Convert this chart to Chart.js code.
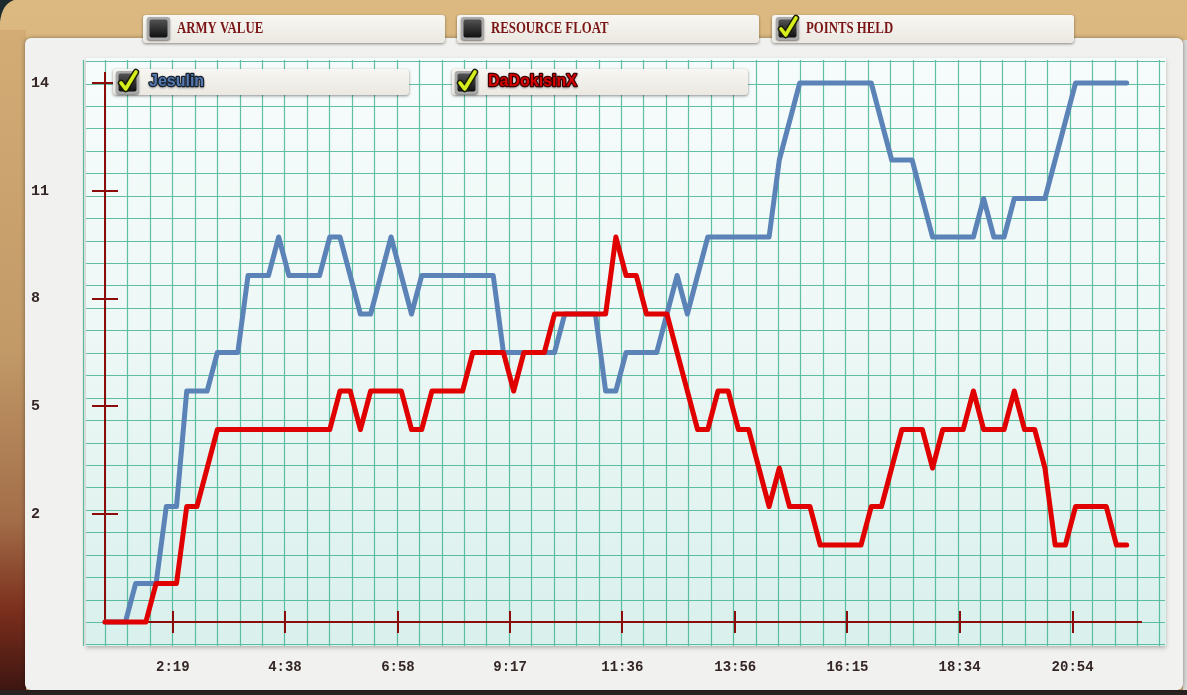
<!DOCTYPE html>
<html>
<head>
<meta charset="utf-8">
<title>Points Held</title>
<script src="https://cdn.jsdelivr.net/npm/chart.js@4.4.0/dist/chart.umd.min.js"></script>
<style>
  html, body { margin: 0; padding: 0; background: #d6b075; overflow: hidden; }
</style>
</head>
<body>
<canvas id="graph" width="1187" height="695"></canvas>
<script>
// --- data (one sample every ~12.7 s) ---
const players = ['Jesulin', 'DaDokisinX'];
const jesulinPoints = [
  0, 0, 0, 1, 1, 1, 3, 3, 6, 6,
  6, 7, 7, 7, 9, 9, 9, 10, 9, 9,
  9, 9, 10, 10, 9, 8, 8, 9, 10, 9,
  8, 9, 9, 9, 9, 9, 9, 9, 9, 7,
  7, 7, 7, 7, 7, 8, 8, 8, 8, 6,
  6, 7, 7, 7, 7, 8, 9, 8, 9, 10,
  10, 10, 10, 10, 10, 10, 12, 13, 14, 14,
  14, 14, 14, 14, 14, 14, 13, 12, 12, 12,
  11, 10, 10, 10, 10, 10, 11, 10, 10, 11,
  11, 11, 11, 12, 13, 14, 14, 14, 14, 14,
  14
];
const dadokisinxPoints = [
  0, 0, 0, 0, 0, 1, 1, 1, 3, 3,
  4, 5, 5, 5, 5, 5, 5, 5, 5, 5,
  5, 5, 5, 6, 6, 5, 6, 6, 6, 6,
  5, 5, 6, 6, 6, 6, 7, 7, 7, 7,
  6, 7, 7, 7, 8, 8, 8, 8, 8, 8,
  10, 9, 9, 8, 8, 8, 7, 6, 5, 5,
  6, 6, 5, 5, 4, 3, 4, 3, 3, 3,
  2, 2, 2, 2, 2, 3, 3, 4, 5, 5,
  5, 4, 5, 5, 5, 6, 5, 5, 5, 6,
  5, 5, 4, 2, 2, 3, 3, 3, 3, 2,
  2
];
const timeTicks = ['2:19', '4:38', '6:58', '9:17', '11:36', '13:56', '16:15', '18:34', '20:54'];
const valueTicks = [2.8, 5.6, 8.4, 11.2, 14];   // fifths of the max, shown floored
const tabs = ['ARMY VALUE', 'RESOURCE FLOAT', 'POINTS HELD'];
const activeTab = 'POINTS HELD';

const firstSampleSec = 55;
const sampleStepSec = 12.66;
const axisStartSec = 55;
const axisEndSec = 1340;

const toSec = s => { const p = s.split(':'); return (+p[0]) * 60 + (+p[1]); };
const toXY = arr => arr.map((v, i) => ({ x: firstSampleSec + i * sampleStepSec, y: v }));

const AXIS_RED = '#8c0c0c';
const INK = '#352626';

function rr(ctx, x, y, w, h, r) {
  ctx.beginPath();
  ctx.moveTo(x + r, y);
  ctx.arcTo(x + w, y, x + w, y + h, r);
  ctx.arcTo(x + w, y + h, x, y + h, r);
  ctx.arcTo(x, y + h, x, y, r);
  ctx.arcTo(x, y, x + w, y, r);
  ctx.closePath();
}

function paperStrip(ctx, x, y, w, h) {
  ctx.save();
  ctx.shadowColor = 'rgba(0,0,0,0.45)';
  ctx.shadowBlur = 3;
  ctx.shadowOffsetY = 1;
  rr(ctx, x, y, w, h, 3);
  const g = ctx.createLinearGradient(0, y, 0, y + h);
  g.addColorStop(0, '#f7f6f2');
  g.addColorStop(1, '#ebe8e1');
  ctx.fillStyle = g;
  ctx.fill();
  ctx.restore();
}

function checkbox(ctx, x, y, s, checked) {
  ctx.save();
  ctx.shadowColor = 'rgba(0,0,0,0.5)';
  ctx.shadowBlur = 2;
  ctx.shadowOffsetY = 1;
  rr(ctx, x, y, s, s, 3);
  ctx.fillStyle = '#a9a9a9';
  ctx.fill();
  ctx.restore();
  const g = ctx.createLinearGradient(0, y + 2, 0, y + s - 2);
  g.addColorStop(0, '#555');
  g.addColorStop(1, '#0e0e0e');
  rr(ctx, x + 2.5, y + 2.5, s - 5, s - 5, 2);
  ctx.fillStyle = g;
  ctx.fill();
  if (checked) {
    ctx.save();
    ctx.beginPath();
    ctx.moveTo(x + 5, y + s * 0.52);
    ctx.lineTo(x + s * 0.42, y + s - 5);
    ctx.lineTo(x + s - 3, y + 1);
    ctx.lineJoin = 'round';
    ctx.lineCap = 'round';
    ctx.strokeStyle = '#1b1d05';
    ctx.lineWidth = 6.5;
    ctx.stroke();
    ctx.strokeStyle = '#d6ee1c';
    ctx.lineWidth = 3.6;
    ctx.stroke();
    ctx.restore();
  }
}

const decor = {
  id: 'decor',
  beforeDraw(chart) {
    const ctx = chart.ctx, W = chart.width, H = chart.height;
    const xs = chart.scales.x, ys = chart.scales.y;
    ctx.save();

    // desk behind the paper
    let g = ctx.createLinearGradient(0, 0, 0, H);
    g.addColorStop(0, '#dcb981');
    g.addColorStop(1, '#c9a26c');
    ctx.fillStyle = g;
    ctx.fillRect(0, 0, W, H);
    g = ctx.createLinearGradient(0, 0, 0, H);
    g.addColorStop(0, '#d4ad76');
    g.addColorStop(0.5, '#c29a68');
    g.addColorStop(0.75, '#a26d48');
    g.addColorStop(0.88, '#7a2e1c');
    g.addColorStop(1, '#3a1410');
    ctx.fillStyle = g;
    ctx.fillRect(0, 30, 26, H - 30);
    ctx.fillStyle = '#1d2a2e';
    ctx.beginPath();
    ctx.moveTo(0, 0); ctx.lineTo(14, 0); ctx.quadraticCurveTo(2, 4, 0, 22); ctx.closePath();
    ctx.fill();
    ctx.fillStyle = '#d9d9d7';
    ctx.fillRect(1183, 40, 4, H - 40);
    ctx.fillStyle = '#2a2220';
    ctx.fillRect(0, 690, W, 5);

    // paper sheet
    ctx.save();
    ctx.shadowColor = 'rgba(0,0,0,0.4)';
    ctx.shadowBlur = 4;
    rr(ctx, 25, 38, 1158, 652, 6);
    ctx.fillStyle = '#f1f1ef';
    ctx.fill();
    ctx.restore();

    // graph paper panel
    const pl = 86, pt = 58, pr = 1166, pb = 646;
    ctx.save();
    ctx.shadowColor = 'rgba(0,0,0,0.25)';
    ctx.shadowBlur = 4;
    ctx.shadowOffsetY = 2;
    g = ctx.createLinearGradient(0, pt, 0, pb);
    g.addColorStop(0, '#f6fcfb');
    g.addColorStop(0.45, '#eef8f6');
    g.addColorStop(1, '#d9f0ec');
    ctx.fillStyle = g;
    ctx.fillRect(pl, pt, pr - pl, pb - pt);
    ctx.restore();

    // grid: five cells per time tick
    const cell = (xs.getPixelForValue(toSec(timeTicks[1])) - xs.getPixelForValue(toSec(timeTicks[0]))) / 5;
    ctx.strokeStyle = 'rgba(40,168,130,0.72)';
    ctx.lineWidth = 1.2;
    ctx.beginPath();
    for (let px = xs.left - cell; px < pr; px += cell) {
      ctx.moveTo(Math.round(px) + 0.5, pt + 2);
      ctx.lineTo(Math.round(px) + 0.5, pb);
    }
    for (let py = ys.bottom + cell; py > pt; py -= cell) {
      ctx.moveTo(pl, Math.round(py) + 0.5);
      ctx.lineTo(pr - 1, Math.round(py) + 0.5);
    }
    ctx.stroke();

    // tabs across the top
    const tabX = [143, 457, 772];
    tabs.forEach((t, i) => {
      paperStrip(ctx, tabX[i], 15, 302, 28);
      checkbox(ctx, tabX[i] + 4, 17, 23, t === activeTab);
      ctx.save();
      ctx.translate(tabX[i] + 34, 29);
      ctx.scale(0.8, 1);
      ctx.font = 'bold 16px "Liberation Serif"';
      ctx.textBaseline = 'middle';
      ctx.fillStyle = '#7c1616';
      ctx.fillText(t, 0, 0);
      ctx.restore();
    });

    // axis labels
    ctx.fillStyle = INK;
    ctx.font = 'bold 15px "Liberation Mono"';
    ctx.textBaseline = 'middle';
    ctx.textAlign = 'left';
    valueTicks.forEach(v => ctx.fillText(String(Math.floor(v)), 31, ys.getPixelForValue(v)));
    ctx.font = 'bold 14px "Liberation Mono"';
    ctx.textAlign = 'center';
    timeTicks.forEach(t => ctx.fillText(t, xs.getPixelForValue(toSec(t)), 667));
    ctx.restore();
  },
  beforeDatasetsDraw(chart) {
    const ctx = chart.ctx, xs = chart.scales.x, ys = chart.scales.y;
    ctx.save();
    ctx.strokeStyle = AXIS_RED;
    ctx.lineWidth = 2;
    ctx.beginPath();
    ctx.moveTo(xs.left, ys.top - 11);
    ctx.lineTo(xs.left, ys.bottom);
    ctx.lineTo(xs.right, ys.bottom);
    valueTicks.forEach(v => {
      const py = Math.round(ys.getPixelForValue(v));
      ctx.moveTo(xs.left - 13, py);
      ctx.lineTo(xs.left + 13, py);
    });
    timeTicks.forEach(t => {
      const px = Math.round(xs.getPixelForValue(toSec(t)));
      ctx.moveTo(px, ys.bottom - 11);
      ctx.lineTo(px, ys.bottom + 11);
    });
    ctx.stroke();
    ctx.restore();
  },
  afterDatasetsDraw(chart) {
    // player legend strips
    const ctx = chart.ctx;
    const boxX = [113, 452];
    const outline = ['#18202e', '#3a0000'];
    chart.data.datasets.forEach((ds, i) => {
      paperStrip(ctx, boxX[i], 69, 296, 26);
      checkbox(ctx, boxX[i] + 3, 71, 23, true);
      ctx.save();
      ctx.font = 'bold 16px "Liberation Sans"';
      ctx.textBaseline = 'middle';
      ctx.lineJoin = 'round';
      ctx.shadowColor = 'rgba(0,0,0,0.35)';
      ctx.shadowBlur = 2;
      ctx.shadowOffsetY = 1;
      ctx.strokeStyle = outline[i];
      ctx.lineWidth = 2.4;
      ctx.strokeText(ds.label, boxX[i] + 36, 82);
      ctx.shadowColor = 'transparent';
      ctx.fillStyle = i === 0 ? '#5278ae' : '#d80000';
      ctx.fillText(ds.label, boxX[i] + 36, 82);
      ctx.restore();
    });
  }
};

new Chart(document.getElementById('graph'), {
  type: 'line',
  data: {
    datasets: [
      { label: players[0], data: toXY(jesulinPoints), borderColor: '#5b83b7', borderWidth: 5, order: 2, clip: false },
      { label: players[1], data: toXY(dadokisinxPoints), borderColor: '#e00000', borderWidth: 5, order: 1, clip: false }
    ]
  },
  options: {
    responsive: false,
    animation: false,
    devicePixelRatio: 1,
    layout: { padding: { left: 105, right: 45, top: 83, bottom: 73 } },
    elements: {
      point: { radius: 0, hoverRadius: 0 },
      line: { tension: 0, borderJoinStyle: 'round', borderCapStyle: 'round' }
    },
    scales: {
      x: { type: 'linear', display: false, min: axisStartSec, max: axisEndSec },
      y: { display: false, min: 0, max: 14 }
    },
    plugins: { legend: { display: false }, tooltip: { enabled: false } }
  },
  plugins: [decor]
});
</script>
</body>
</html>
